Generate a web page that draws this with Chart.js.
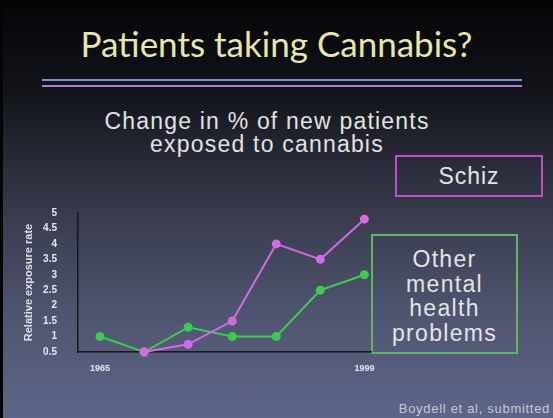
<!DOCTYPE html>
<html>
<head>
<meta charset="utf-8">
<script src="https://cdn.jsdelivr.net/npm/chart.js@4"></script>
<style>
  html, body { margin: 0; padding: 0; }
  body { width: 553px; height: 418px; overflow: hidden; position: relative;
         background: linear-gradient(to bottom, #050507 0%, #12141a 22%, #2a2d3a 40%, #3c4052 55%, #4f5470 75%, #5f6588 100%); }
  .edge { position: absolute; left: 0; top: 0; width: 3px; height: 418px; background: #050505; }
  .title { position: absolute; left: 0; width: 553px; top: 22px; text-align: center;
           font-family: Lato, sans-serif; font-size: 35px; color: #e8e6ac; }
  .rule { position: absolute; left: 42px; width: 480px; height: 2px; }
  .sub { position: absolute; left: 0; width: 534px; top: 110px; text-align: center;
         font-family: "Liberation Sans", Arial, sans-serif; font-size: 23px; line-height: 23px;
         letter-spacing: 1.2px; color: #e2e2e2; }
  .box { position: absolute; font-family: "Liberation Sans", Arial, sans-serif; color: #e4e4e4;
         text-align: center; box-sizing: border-box; }
  .schiz { left: 395px; top: 155px; width: 148px; height: 42px; border: 2px solid #c24ccc;
           font-size: 23px; line-height: 38px; letter-spacing: 1px; }
  .other { left: 371px; top: 234px; width: 147px; height: 120px; border: 2px solid #63b463;
           font-size: 23px; line-height: 24.5px; padding-top: 11px; letter-spacing: 1.3px; }
  .foot { position: absolute; right: 3px; top: 401px; font-family: "Liberation Sans", Arial, sans-serif;
          font-size: 13px; letter-spacing: 0.7px; color: #c4c8d6; }
  #chart { position: absolute; left: 0; top: 0; }
</style>
</head>
<body>
<div class="edge"></div>
<div class="title">Patients taking Cannabis?</div>
<div class="rule" style="top:79px;background:#7f8fd0;"></div>
<div class="rule" style="top:85px;background:#b27ed2;"></div>
<div class="sub">Change in % of new patients<br>exposed to cannabis</div>
<div class="box schiz">Schiz</div>
<div class="box other">Other<br>mental<br>health<br>problems</div>
<div class="foot">Boydell et al, submitted</div>
<canvas id="chart" width="553" height="418"></canvas>
<script>
// x categories (only the first and last are labelled on the slide)
const categories = ['1965', '', '', '', '', '', '1999'];
// relative exposure rate
const schizValues = [null, 0.5, 0.75, 1.5, 4.0, 3.5, 4.8];
const otherValues = [1.0, 0.5, 1.3, 1.0, 1.0, 2.5, 3.0];
const yTickLabels = ['0.5', '1', '1.5', '2', '2.5', '3', '3.5', '4', '4.5', '5'];

function toPoints(vals) {
    return vals.map(function(v, i) { return { x: i, y: v }; });
}

let ctx = document.getElementById('chart').getContext('2d');
let chart = new Chart(ctx, {
    type: 'line',
    data: {
        datasets: [{
            label: 'Schiz',
            data: toPoints(schizValues),
            borderColor: '#d46ae4',
            backgroundColor: '#d46ae4',
            borderWidth: 2,
            pointRadius: 3.5,
            pointHoverRadius: 3.5
        }, {
            label: 'Other mental health problems',
            data: toPoints(otherValues),
            borderColor: '#3ccc4c',
            backgroundColor: '#3ccc4c',
            borderWidth: 2,
            pointRadius: 3.5,
            pointHoverRadius: 3.5
        }]
    },
    options: {
        responsive: false,
        animation: false,
        clip: false,
        layout: { padding: { left: 0, top: 213, right: 182, bottom: 46 } },
        plugins: { legend: { display: false }, tooltip: { enabled: false } },
        scales: {
            x: {
                type: 'linear',
                min: -0.5,
                max: 6.15,
                grid: { display: false },
                border: { display: true, color: '#16181e', width: 1.5 },
                afterBuildTicks: function(scale) {
                    scale.ticks = [{ value: 0 }, { value: 6 }];
                },
                afterFit: function(scale) { scale.height = 20; },
                ticks: {
                    color: '#e6e6ee',
                    font: { family: 'Liberation Sans', size: 9, weight: 'bold' },
                    padding: 3,
                    maxRotation: 0,
                    callback: function(v) { return categories[v]; }
                }
            },
            y: {
                min: 0.5,
                max: 5,
                grid: { display: false },
                border: { display: true, color: '#16181e', width: 1.5 },
                afterFit: function(scale) { scale.width = 78; },
                ticks: {
                    stepSize: 0.5,
                    color: '#e6e6ee',
                    font: { family: 'Liberation Sans', size: 10, weight: 'bold' },
                    padding: 13,
                    callback: function(v, i) { return yTickLabels[i]; }
                },
                title: {
                    display: true,
                    text: 'Relative exposure rate',
                    color: '#e0e0e8',
                    font: { family: 'Liberation Sans', size: 11, weight: 'bold' },
                    padding: { top: 22, bottom: 0 }
                }
            }
        }
    }
});
</script>
</body>
</html>
